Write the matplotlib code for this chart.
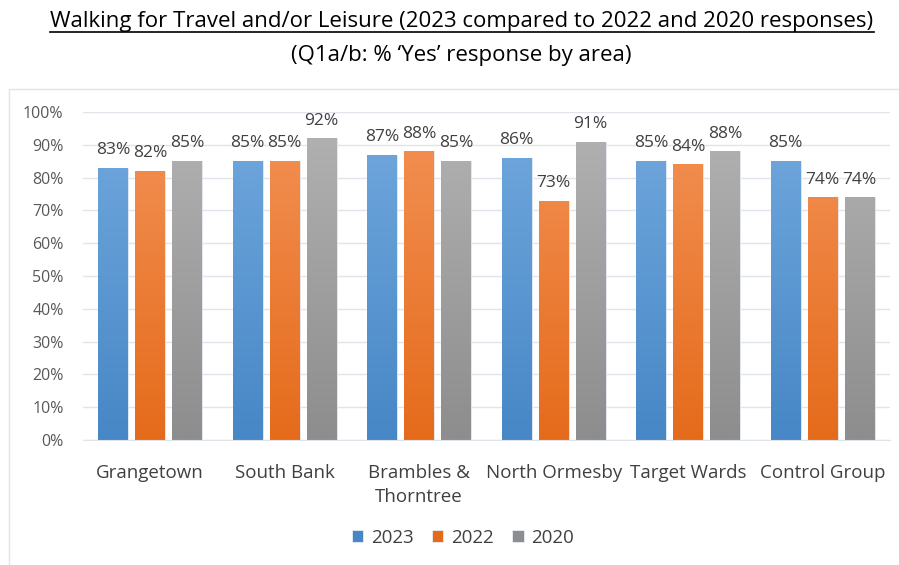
import numpy as np
import matplotlib.pyplot as plt
from matplotlib.colors import LinearSegmentedColormap
from matplotlib.patches import Rectangle

# areas and % 'Yes' responses
areas = ["Grangetown", "South Bank", "Brambles &\nThorntree", "North Ormesby", "Target Wards", "Control Group"]
years = ["2023", "2022", "2020"]
vals_2023 = [83, 85, 87, 86, 85, 85]
vals_2022 = [82, 85, 88, 73, 84, 74]
vals_2020 = [85, 92, 85, 91, 88, 74]

plt.rcParams['font.family'] = ['Open Sans', 'DejaVu Sans']

fig = plt.figure(figsize=(8.99, 5.65), dpi=100)
ax = fig.add_axes([0.0923, 0.2212, 0.8977, 0.5806])

# chart frame (light grey border like the excel chart area)
fig.patches.append(Rectangle((9/899, -0.01), 1.0, 1 - 89/565 + 0.01, transform=fig.transFigure,
                             fill=False, edgecolor='#e3e3e3', linewidth=1.0))

tops = ['#72a9de', '#f39256', '#b3b3b3']
bottoms = ['#4787c6', '#e56b1b', '#8d8d8d']
x = np.arange(len(areas))
off = 0.275
w = 0.223
grad = np.linspace(0, 1, 256).reshape(-1, 1)

for i, (yr, vals) in enumerate(zip(years, [vals_2023, vals_2022, vals_2020])):
    cmap = LinearSegmentedColormap.from_list('g' + yr, [bottoms[i], tops[i]])
    bars = ax.bar(x + (i - 1) * off, vals, w, color=bottoms[i], label=yr, zorder=2,
                  edgecolor='#e8eef6', linewidth=0.6)
    for b in bars:
        # gradient fill, lighter at the top
        im = ax.imshow(grad, cmap=cmap, origin='lower', aspect='auto', zorder=2.5,
                       extent=[b.get_x(), b.get_x() + b.get_width(), 0, 100])
        im.set_clip_path(b)
        ax.annotate(f"{b.get_height():.0f}%", (b.get_x() + b.get_width() / 2, b.get_height()),
                    xytext=(0, 7), textcoords='offset points', ha='center', va='bottom',
                    fontsize=12.5, color='#404040')

ax.set_xlim(-0.5, len(areas) - 0.5)
ax.set_ylim(0, 100)
ax.set_yticks(np.arange(0, 101, 10))
ax.set_yticklabels([f"{t}%" for t in range(0, 101, 10)])
ax.set_xticks(x)
ax.set_xticklabels(areas, linespacing=1.45)
ax.tick_params(axis='y', length=0, pad=14, labelsize=11.5, labelcolor='#595959')
ax.tick_params(axis='x', length=0, pad=17, labelsize=13.5, labelcolor='#404040')
ax.grid(axis='y', color='#e1e4ea', linewidth=1.0, zorder=0)
ax.set_axisbelow(True)
for s in ['top', 'right', 'left']:
    ax.spines[s].set_visible(False)
ax.spines['bottom'].set_color('#dfe3ea')

leg = fig.legend(loc='center', bbox_to_anchor=(0.515, 1 - 538/565), ncol=3, frameon=False,
                 fontsize=13.5, handlelength=0.6, handleheight=0.6, handletextpad=0.4,
                 columnspacing=1.0)
for t in leg.get_texts():
    t.set_color('#404040')

title = fig.text(462/899, 1 - 21/565,
                 "Walking for Travel and/or Leisure (2023 compared to 2022 and 2020 responses)",
                 ha='center', va='center', fontsize=16, color='black')
fig.text(461/899, 1 - 55/565, "(Q1a/b: % \u2018Yes\u2019 response by area)",
         ha='center', va='center', fontsize=16, color='black')

# underline the title from its rendered extent
fig.canvas.draw()
bb = title.get_window_extent().transformed(fig.transFigure.inverted())
fig.add_artist(plt.Line2D([bb.x0, bb.x1], [1 - 32/565, 1 - 32/565], transform=fig.transFigure,
                          color='black', linewidth=1.2))

fig.savefig("out.png", dpi=100)
